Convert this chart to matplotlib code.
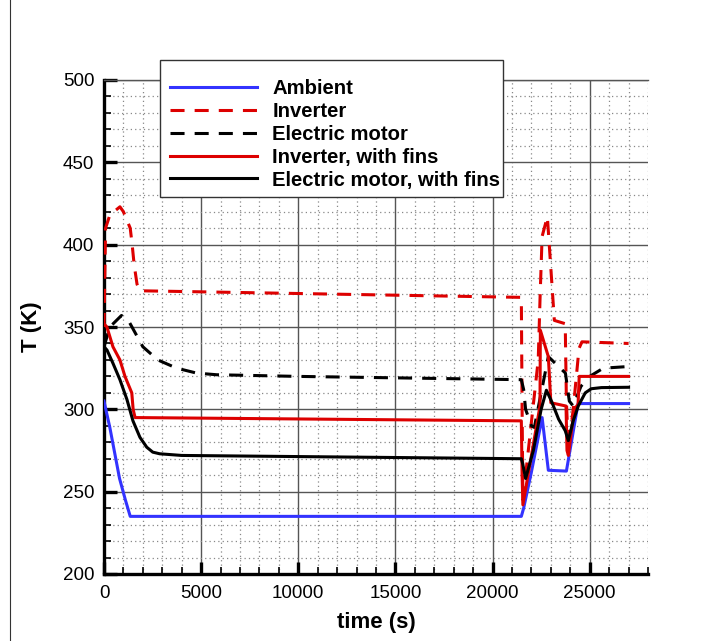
import matplotlib
matplotlib.use("Agg")
import matplotlib.pyplot as plt
from matplotlib.lines import Line2D
from matplotlib.patches import Rectangle
from matplotlib.ticker import MultipleLocator

plt.rcParams['font.family'] = ['Liberation Sans', 'DejaVu Sans']

# ---------------- data ----------------
amb_t = [0, 300, 800, 1100, 1350, 21480, 21600, 22000, 22550, 22870, 23800, 24400, 27000]
amb_T = [305, 289, 258, 245, 235, 235, 240, 262, 295, 263, 262.5, 303.5, 303.5]

inv_t = [0, 80, 300, 820, 1000, 1350, 1450, 1550, 1700, 1850, 21480, 21520, 21560,
         22350, 22450, 22550, 22820, 23180, 23740, 23800, 23900, 24150, 24450, 24600, 27000]
inv_T = [350, 410, 418, 423, 420, 410, 400, 388, 376, 372, 368, 300, 245,
         330, 370, 405, 417, 354, 352, 305, 276, 300, 337, 341, 340]

mot_t = [0, 300, 900, 1300, 2000, 2770, 3740, 4770, 5800, 10000, 21480, 21600, 21700,
         22000, 22150, 22870, 23750, 23950, 24150, 24550, 25000, 25700, 27000]
mot_T = [338, 350, 357, 353, 338, 330, 325, 322, 321, 320, 318, 312, 300,
         290, 289, 332, 322, 305, 302, 314, 320, 325, 326]

invf_t = [0, 150, 460, 820, 1080, 1430, 1500, 1600, 21480, 21520, 21560, 22440, 22460,
          22870, 23000, 23780, 23830, 23900, 24200, 24400, 24460, 27000]
invf_T = [352, 350, 338, 330, 320, 310, 300, 295, 293, 260, 242, 302, 348,
          332, 304, 302, 275, 272, 300, 303, 320, 320]

motf_t = [0, 154, 460, 820, 1180, 1490, 1850, 2200, 2510, 2870, 4000, 21480, 21550, 21700,
          22100, 22500, 22770, 23030, 23400, 23740, 23900, 24150, 24410, 24770, 25080, 25600, 27000]
motf_T = [338, 336, 328, 318, 306, 293, 283, 277, 274, 273, 272, 270, 267, 258,
          275, 300, 311.6, 305, 294, 287, 281, 293, 302, 310, 312.5, 313.2, 313.4]

labels = ["Ambient", "Inverter", "Electric motor", "Inverter, with fins",
          "Electric motor, with fins"]

# ---------------- figure ----------------
W, H = 721, 641
fig = plt.figure(figsize=(W/100, H/100), dpi=100)
ax = fig.add_axes([104/W, 1-574/H, 544/W, (574-80)/H])

blue = '#3333ff'
red = '#dd0000'
lw = 2.2
dash = (4.6, 3.3)

ax.plot(amb_t, amb_T, color=blue, lw=lw, label=labels[0], zorder=3)
ax.plot(inv_t, inv_T, color=red, lw=lw, dashes=dash, label=labels[1], zorder=3)
ax.plot(mot_t, mot_T, color='black', lw=lw, dashes=dash, label=labels[2], zorder=3)
ax.plot(invf_t, invf_T, color=red, lw=lw, label=labels[3], zorder=3)
ax.plot(motf_t, motf_T, color='black', lw=lw, label=labels[4], zorder=3)

ax.set_xlim(0, 28000)
ax.set_ylim(200, 500)
ax.xaxis.set_major_locator(MultipleLocator(5000))
ax.xaxis.set_minor_locator(MultipleLocator(1000))
ax.yaxis.set_major_locator(MultipleLocator(50))
ax.yaxis.set_minor_locator(MultipleLocator(10))

ax.grid(which='major', color='#555555', lw=1.0, ls='-', zorder=1)
ax.grid(which='minor', color='#888888', lw=0.9, ls=(0, (1, 2.5)), zorder=1)
ax.set_axisbelow(True)

ax.tick_params(which='major', direction='in', length=9, width=2.4, labelsize=13.5,
               color='black')
ax.tick_params(axis='x', which='major', pad=8)
ax.tick_params(axis='y', which='major', pad=7)
ax.tick_params(which='minor', direction='in', length=5, width=1.2, color='black')
ax.tick_params(top=False, right=False)

ax.spines['left'].set_linewidth(2.4)
ax.spines['bottom'].set_linewidth(2.4)
ax.spines['right'].set_visible(False)
ax.spines['top'].set_linewidth(1.0)
ax.spines['top'].set_color('#555555')

ax.set_xlabel('time (s)', fontsize=16, fontweight='bold', labelpad=7)
ax.set_ylabel('T (K)', fontsize=16, fontweight='bold', labelpad=15)

# legend (frame drawn separately to match the box exactly)
fs = 14.6
fs_px = fs * 100 / 72
leg = ax.legend(loc='upper left', bbox_to_anchor=(160/W, 1-69/H),
                bbox_transform=fig.transFigure, frameon=False, borderaxespad=0,
                prop={'weight': 'bold', 'size': fs},
                handlelength=87/fs_px, handletextpad=15/fs_px, labelspacing=0.19,
                borderpad=0.5)
leg.set_zorder(10)
frame = Rectangle((160/W, 1-197/H), (503-160)/W, (197-60)/H, transform=fig.transFigure,
                  facecolor='white', edgecolor='#333333', lw=1.0, zorder=5)
fig.add_artist(frame)
fig.add_artist(leg)

fig.add_artist(Line2D([10/W, 10/W], [0, 1], color='#333333', lw=0.8))

fig.savefig('out.png', dpi=100)
